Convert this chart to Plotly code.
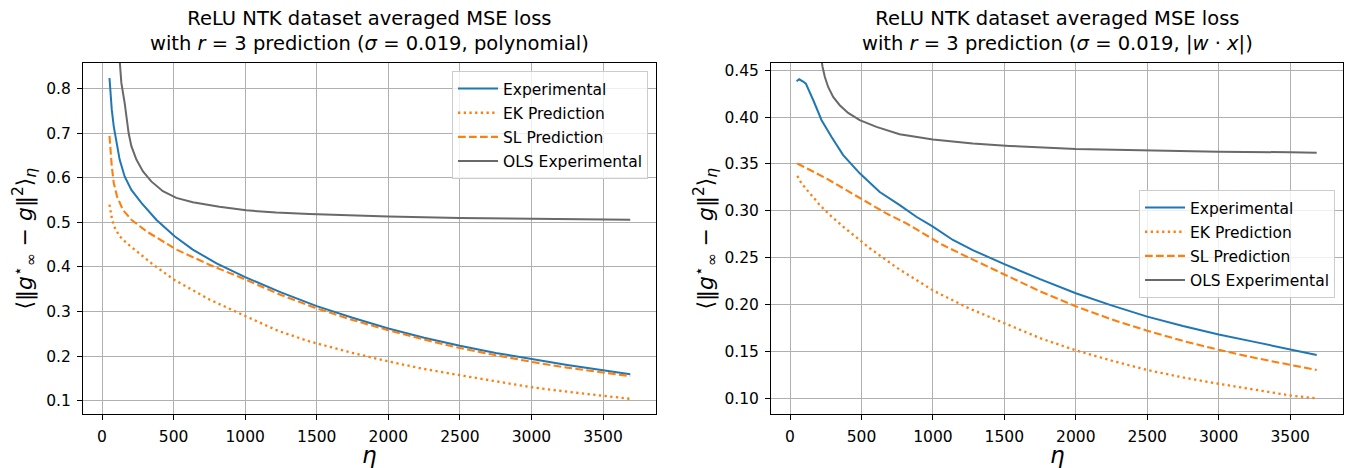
import plotly.graph_objects as go

W, H = 1348, 468

# ---------------- data ----------------
# Left panel: polynomial target
l_exp_x = [52, 59, 68, 82, 100, 123, 158, 205, 275, 379, 507, 634, 800, 1000, 1250, 1500, 1750, 2000, 2250, 2500, 2750, 3000, 3250, 3500, 3690]
l_exp_y = [0.824, 0.790, 0.753, 0.715, 0.678, 0.641, 0.603, 0.573, 0.544, 0.506, 0.469, 0.439, 0.408, 0.377, 0.343, 0.312, 0.286, 0.262, 0.241, 0.223, 0.207, 0.193, 0.180, 0.168, 0.159]

l_ek_x = [52, 66, 84, 123, 170, 228, 350, 500, 750, 1000, 1227, 1448, 1750, 2000, 2250, 2500, 2750, 3000, 3250, 3500, 3690]
l_ek_y = [0.540, 0.513, 0.491, 0.469, 0.454, 0.439, 0.407, 0.372, 0.327, 0.290, 0.257, 0.233, 0.207, 0.188, 0.171, 0.157, 0.143, 0.130, 0.120, 0.110, 0.104]

l_sl_x = [52, 59, 68, 82, 105, 146, 205, 310, 519, 750, 1000, 1250, 1500, 1750, 2000, 2250, 2500, 2750, 3000, 3250, 3500, 3690]
l_sl_y = [0.694, 0.663, 0.626, 0.588, 0.558, 0.528, 0.506, 0.480, 0.439, 0.405, 0.372, 0.337, 0.307, 0.281, 0.258, 0.237, 0.218, 0.202, 0.187, 0.174, 0.163, 0.155]

l_ols_x = [52, 90, 110, 123, 135, 158, 170, 186, 205, 240, 286, 344, 425, 519, 634, 820, 1007, 1216, 1448, 2000, 2500, 3000, 3500, 3690]
l_ols_y = [2.0, 1.1, 0.92, 0.858, 0.813, 0.768, 0.738, 0.700, 0.671, 0.641, 0.6145, 0.592, 0.570, 0.555, 0.545, 0.535, 0.527, 0.522, 0.519, 0.513, 0.510, 0.508, 0.507, 0.506]

# Right panel: |w.x| target
r_exp_x = [46, 64, 92, 111, 163, 221, 290, 372, 488, 628, 768, 884, 1000, 1140, 1279, 1500, 1750, 2000, 2250, 2500, 2750, 3000, 3250, 3500, 3686]
r_exp_y = [0.4383, 0.4404, 0.438, 0.4358, 0.418, 0.3967, 0.379, 0.3594, 0.340, 0.320, 0.306, 0.2936, 0.283, 0.2688, 0.258, 0.243, 0.227, 0.212, 0.199, 0.187, 0.177, 0.168, 0.160, 0.152, 0.146]

r_ek_x = [51, 81, 139, 209, 279, 372, 488, 558, 750, 1000, 1250, 1500, 1750, 2000, 2250, 2500, 2750, 3000, 3250, 3500, 3686]
r_ek_y = [0.3373, 0.3292, 0.3186, 0.306, 0.2954, 0.283, 0.2688, 0.260, 0.239, 0.215, 0.196, 0.180, 0.164, 0.151, 0.140, 0.130, 0.122, 0.1153, 0.109, 0.1028, 0.0996]

r_sl_x = [51, 139, 255, 395, 535, 674, 814, 977, 1070, 1250, 1500, 1750, 2000, 2250, 2500, 2750, 3000, 3250, 3500, 3686]
r_sl_y = [0.3505, 0.3434, 0.3345, 0.322, 0.3096, 0.2972, 0.2866, 0.2723, 0.2634, 0.250, 0.232, 0.214, 0.198, 0.184, 0.172, 0.161, 0.1515, 0.143, 0.1355, 0.130]

r_ols_x = [50, 100, 150, 190, 228, 244, 267, 302, 348, 407, 488, 605, 767, 1000, 1279, 1535, 2000, 2500, 3000, 3500, 3686]
r_ols_y = [0.80, 0.64, 0.545, 0.49, 0.4535, 0.4429, 0.4322, 0.4215, 0.4127, 0.4045, 0.3967, 0.3896, 0.3818, 0.3761, 0.3719, 0.3693, 0.366, 0.3645, 0.363, 0.3625, 0.362]

names = ["Experimental", "EK Prediction", "SL Prediction", "OLS Experimental"]
x_ticks = [0, 500, 1000, 1500, 2000, 2500, 3000, 3500]
l_y_ticks = [0.1, 0.2, 0.3, 0.4, 0.5, 0.6, 0.7, 0.8]
r_y_ticks = [0.10, 0.15, 0.20, 0.25, 0.30, 0.35, 0.40, 0.45]

titles = [
    "ReLU NTK dataset averaged MSE loss<br>with <i>r</i> = 3 prediction (<i>σ</i> = 0.019, polynomial)",
    "ReLU NTK dataset averaged MSE loss<br>with <i>r</i> = 3 prediction (<i>σ</i> = 0.019, |<i>w</i> · <i>x</i>|)",
]
ylabel = "⟨‖<i>g</i><sup>⋆</sup><sub>∞</sub> − <i>g</i>‖<sup>2</sup>⟩<sub><i>η</i></sub>"
xlabel = "<i>η</i>"

# ---------------- styling ----------------
FONT = "DejaVu Sans"
BLUE, ORANGE, GRAY = "#1f77b4", "#ff7f0e", "#696969"
styles = [
    dict(color=BLUE, width=2, dash="solid"),
    dict(color=ORANGE, width=2.3, dash="2.3px,3.4px"),
    dict(color=ORANGE, width=2.1, dash="7.7px,3.3px"),
    dict(color=GRAY, width=2, dash="solid"),
]

fig = go.Figure()
left = [(l_exp_x, l_exp_y), (l_ek_x, l_ek_y), (l_sl_x, l_sl_y), (l_ols_x, l_ols_y)]
right = [(r_exp_x, r_exp_y), (r_ek_x, r_ek_y), (r_sl_x, r_sl_y), (r_ols_x, r_ols_y)]
for i, (xs, ys) in enumerate(left):
    fig.add_trace(go.Scatter(x=xs, y=ys, mode="lines", name=names[i], line=styles[i],
                             xaxis="x", yaxis="y", legend="legend", legendgroup="L%d" % i))
for i, (xs, ys) in enumerate(right):
    fig.add_trace(go.Scatter(x=xs, y=ys, mode="lines", name=names[i], line=styles[i],
                             xaxis="x2", yaxis="y2", legend="legend2", legendgroup="R%d" % i))

axis_common = dict(
    showgrid=True, gridcolor="#b0b0b0", gridwidth=1,
    showline=True, linecolor="black", linewidth=1, mirror=True,
    ticks="outside", ticklen=5, tickwidth=1, tickcolor="black",
    tickfont=dict(family=FONT, size=15.5, color="black"),
    zeroline=False, ticklabelstandoff=3,
)

legend_common = dict(
    xanchor="right", yanchor="top",
    bgcolor="rgba(255,255,255,0.8)", bordercolor="#cccccc", borderwidth=1,
    font=dict(family=FONT, size=15.5, color="black"), tracegroupgap=1, itemwidth=40,
)

ydom = [1 - 414 / H, 1 - 63 / H]
fig.update_layout(
    width=W, height=H,
    margin=dict(l=0, r=0, t=0, b=0),
    paper_bgcolor="white", plot_bgcolor="white",
    font=dict(family=FONT, color="black"),
    xaxis=dict(axis_common, domain=[83 / W, 656 / W], anchor="y", range=[-133, 3870],
               tickvals=x_ticks, ticktext=[str(v) for v in x_ticks]),
    yaxis=dict(axis_common, domain=ydom, anchor="x", range=[0.070, 0.8577],
               tickvals=l_y_ticks, ticktext=["%.1f" % v for v in l_y_ticks]),
    xaxis2=dict(axis_common, domain=[771 / W, 1343 / W], anchor="y2", range=[-133, 3870],
                tickvals=x_ticks, ticktext=[str(v) for v in x_ticks]),
    yaxis2=dict(axis_common, domain=ydom, anchor="x2", range=[0.083, 0.4578],
                tickvals=r_y_ticks, ticktext=["%.2f" % v for v in r_y_ticks]),
    showlegend=True,
    legend=dict(legend_common, x=648 / W, y=1 - 71 / H),
    legend2=dict(legend_common, x=1335 / W, y=1 - 190 / H),
)

centers = [(83 + 656) / 2 / W, (771 + 1343) / 2 / W]
ylabel_x = [25 / W, 706 / W]
for k in range(2):
    fig.add_annotation(text=titles[k], xref="paper", yref="paper", x=centers[k], y=1 - 31.5 / H,
                       xanchor="center", yanchor="middle", showarrow=False,
                       font=dict(family=FONT, size=19.5, color="black"))
    fig.add_annotation(text=xlabel, xref="paper", yref="paper", x=centers[k], y=1 - 455 / H,
                       xanchor="center", yanchor="middle", showarrow=False,
                       font=dict(family=FONT, size=23, color="black"))
    fig.add_annotation(text=ylabel, xref="paper", yref="paper", x=ylabel_x[k], y=1 - 238.5 / H,
                       xanchor="center", yanchor="middle", showarrow=False, textangle=-90,
                       font=dict(family=FONT, size=22, color="black"))

fig.write_html("out.html", config={"displayModeBar": False},
               post_script="document.body.style.margin='0';document.body.style.overflow='hidden';")
